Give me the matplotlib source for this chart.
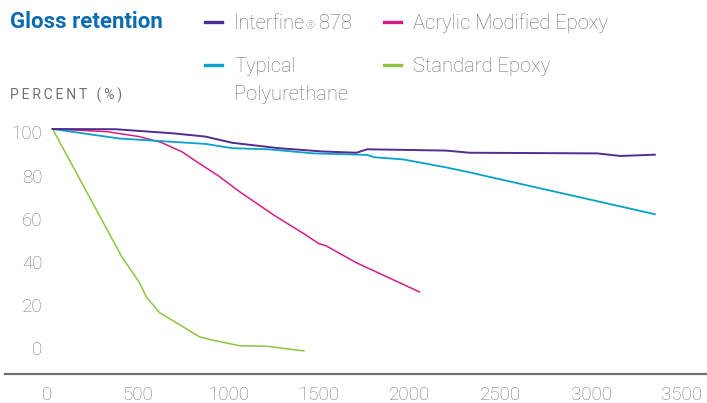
import matplotlib
matplotlib.use("Agg")
import matplotlib.pyplot as plt
from matplotlib.lines import Line2D

# hours of exposure vs gloss retained (%)
interfine_x = [31, 378, 695, 873, 1022, 1279, 1517, 1705, 1765, 2200, 2329, 3032, 3161, 3350]
interfine_y = [101.6, 101.5, 99.6, 98.1, 95.2, 92.7, 91.2, 90.6, 92.2, 91.6, 90.6, 90.3, 89.1, 89.7]

acrylic_x = [31, 329, 507, 626, 745, 824, 943, 1062, 1250, 1428, 1497, 1537, 1705, 2052]
acrylic_y = [101.6, 100.4, 98.1, 95.5, 91.0, 86.5, 80.0, 72.5, 61.7, 52.4, 48.5, 47.5, 39.6, 26.1]

polyurethane_x = [31, 398, 626, 873, 1022, 1220, 1468, 1765, 1804, 1963, 2200, 2329, 3350]
polyurethane_y = [101.6, 97.2, 96.0, 94.7, 92.7, 92.2, 90.3, 89.6, 88.5, 87.5, 83.8, 81.5, 62.1]

standard_x = [31, 412, 511, 547, 621, 842, 913, 1062, 1209, 1416]
standard_y = [101.6, 42.4, 30.2, 23.8, 16.4, 5.2, 3.7, 1.1, 0.9, -1.3]

x_ticks = [0, 500, 1000, 1500, 2000, 2500, 3000, 3500]
y_ticks = [0, 20, 40, 60, 80, 100]

PURPLE = "#4f2d91"
MAGENTA = "#d81b85"
CYAN = "#0aa0c8"
GREEN = "#8cc63f"
GREY = "#7a7a7a"
TEXT = "#707070"
BLUE = "#0b6cb2"

plt.rcParams["font.family"] = ["Roboto", "DejaVu Sans"]

W, H = 707, 403
fig = plt.figure(figsize=(W / 100, H / 100), dpi=100)

# axes: from x px 5 to 707, y px 115 to 374
ax = fig.add_axes([5 / W, (H - 374) / H, 702 / W, (374 - 115) / H])
ax.set_xlim(-231.5, 3637.8)
ax.set_ylim(-12, 108.1)

ax.plot(standard_x, standard_y, color=GREEN, lw=1.1)
ax.plot(acrylic_x, acrylic_y, color=MAGENTA, lw=1.1)
ax.plot(polyurethane_x, polyurethane_y, color=CYAN, lw=1.3)
ax.plot(interfine_x, interfine_y, color=PURPLE, lw=1.4)

for s in ["top", "right", "left"]:
    ax.spines[s].set_visible(False)
ax.spines["bottom"].set_color("#707070")
ax.spines["bottom"].set_linewidth(1.6)

ax.set_xticks(x_ticks)
ax.set_xticklabels([str(v) for v in x_ticks])
ax.set_yticks(y_ticks)
ax.set_yticklabels([str(v) for v in y_ticks])
ax.tick_params(axis="x", length=0, pad=9, labelsize=13.5, labelcolor=GREY)
ax.tick_params(axis="y", length=0, pad=-27, labelsize=13.5, labelcolor=GREY)
for lab in ax.get_xticklabels() + ax.get_yticklabels():
    lab.set_fontweight("light")
for lab in ax.get_yticklabels():
    lab.set_horizontalalignment("right")

# title and axis caption
fig.text(10 / W, 1 - 22 / H, "Gloss retention", color=BLUE, fontsize=16,
         fontweight="bold", va="center", ha="left")
fig.text(10 / W, 1 - 95 / H, "\u2009".join("PERCENT (%)"), color=TEXT,
         fontsize=10, va="center", ha="left")

renderer = fig.canvas.get_renderer()


def text_run(px, py, parts):
    """Write pieces of text one after another starting at pixel (px, py)."""
    for s, size in parts:
        t = fig.text(px / W, 1 - py / H, s, color=TEXT, fontsize=size,
                     fontweight="light", va="baseline", ha="left")
        px += t.get_window_extent(renderer).width


# legend drawn by hand so the two-line label sits like the original
handles = [
    (PURPLE, 205, 22),
    (MAGENTA, 384, 22),
    (CYAN, 205, 65),
    (GREEN, 384, 65),
]
for color, px, py in handles:
    fig.add_artist(Line2D([px / W, (px + 17) / W], [1 - py / H, 1 - py / H],
                          color=color, lw=2.4, transform=fig.transFigure))

text_run(234, 29, [("Interfine", 14.5), ("\u00ae", 8), (" 878", 14.5)])
text_run(413, 29, [("Acrylic Modified Epoxy", 14.5)])
text_run(234, 72, [("Typical", 14.5)])
text_run(234, 100, [("Polyurethane", 14.5)])
text_run(413, 72, [("Standard Epoxy", 14.5)])

fig.savefig("out.png", dpi=100)
